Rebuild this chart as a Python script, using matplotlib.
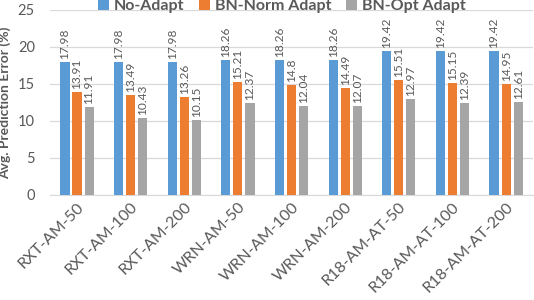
import matplotlib
matplotlib.use("Agg")
import matplotlib.pyplot as plt
import numpy as np

plt.rcParams['font.family'] = ['Lato', 'DejaVu Sans']

categories = ["RXT-AM-50", "RXT-AM-100", "RXT-AM-200", "WRN-AM-50", "WRN-AM-100",
              "WRN-AM-200", "R18-AM-AT-50", "R18-AM-AT-100", "R18-AM-AT-200"]
no_adapt = [17.98, 17.98, 17.98, 18.26, 18.26, 18.26, 19.42, 19.42, 19.42]
bn_norm = [13.91, 13.49, 13.26, 15.21, 14.8, 14.49, 15.51, 15.15, 14.95]
bn_opt = [11.91, 10.43, 10.15, 12.37, 12.04, 12.07, 12.97, 12.39, 12.61]
series_names = ["No-Adapt", "BN-Norm Adapt", "BN-Opt Adapt"]
colors = ["#5B9BD5", "#ED7D31", "#A5A5A5"]

fig = plt.figure(figsize=(5.34, 3.0), dpi=100)
ax = fig.add_axes([0.094, 0.35, 0.904, 0.617])

x = np.arange(len(categories))
w = 0.17
step = 0.225
txtc = "#595959"
for i, (vals, name, c) in enumerate(zip([no_adapt, bn_norm, bn_opt], series_names, colors)):
    pos = x + (i - 1) * step
    ax.bar(pos, vals, width=w, color=c, label=name, zorder=3)
    for p, v in zip(pos, vals):
        ax.text(p, v + 0.4, f"{v:g}", rotation=90, ha='center', va='bottom',
                fontsize=8.6, color=txtc)

ax.set_xlim(-0.5, len(categories) - 0.5)
ax.set_ylim(0, 25)
ax.set_yticks([0, 5, 10, 15, 20, 25])
ax.yaxis.grid(True, color="#D9D9D9", linewidth=0.9, zorder=0)
for s in ['top', 'right', 'left']:
    ax.spines[s].set_visible(False)
ax.spines['bottom'].set_color("#D9D9D9")
ax.tick_params(axis='both', length=0, colors=txtc, labelsize=10.5)
ax.tick_params(axis='y', pad=11)
ax.set_xticks(x)
ax.set_xticklabels(categories, rotation=45, ha='right', rotation_mode='anchor', fontsize=11.5)
ax.set_ylabel("Avg. Prediction Error (%)", fontsize=10, fontweight='bold', color=txtc)
ax.yaxis.set_label_coords(-0.08, 0.5)

leg = ax.legend(loc='upper center', bbox_to_anchor=(0.48, 1.14), ncol=3, frameon=False,
                fontsize=11.5, handlelength=0.7, handleheight=0.7, handletextpad=0.3,
                columnspacing=0.9)
for t in leg.get_texts():
    t.set_color(txtc)
    t.set_fontweight('bold')

fig.savefig("out.png", dpi=100)
